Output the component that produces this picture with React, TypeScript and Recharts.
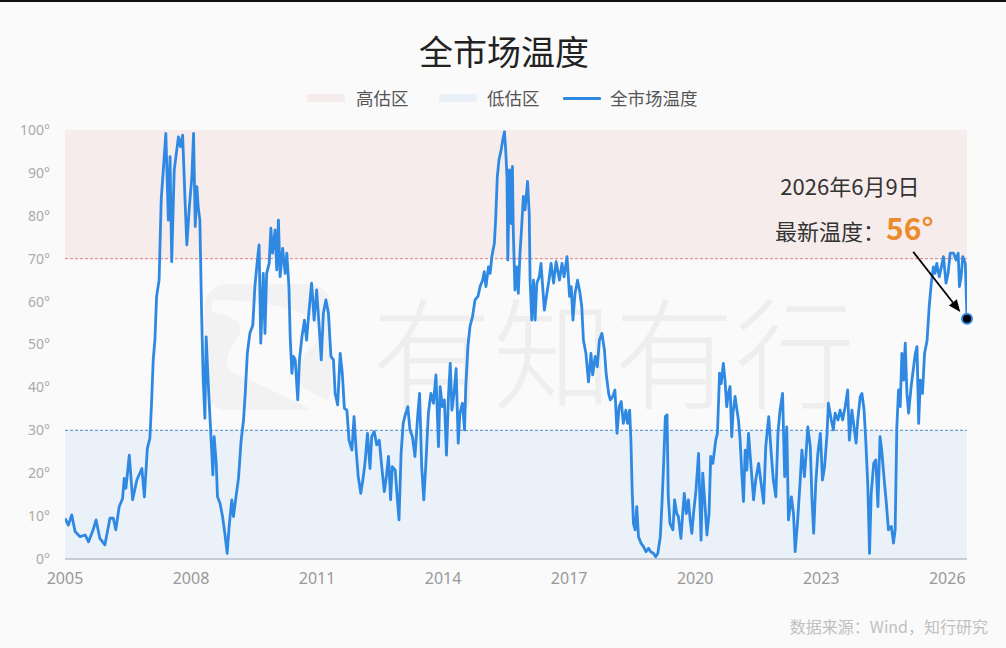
import React from 'react';
import {
  ComposedChart,
  Line,
  XAxis,
  YAxis,
  ReferenceArea,
  ReferenceLine,
  ReferenceDot,
} from 'recharts';

// ---------- DATA ----------
const years2005to2010 = [
  2005.00, 2005.08, 2005.16, 2005.24, 2005.36, 2005.48, 2005.56, 2005.67, 2005.74, 2005.83,
  2005.95, 2006.07, 2006.15, 2006.21, 2006.29, 2006.37, 2006.41, 2006.45, 2006.53, 2006.61,
  2006.71, 2006.83, 2006.89, 2006.96, 2007.02, 2007.06, 2007.10, 2007.14, 2007.18, 2007.24,
  2007.29, 2007.34, 2007.40, 2007.46, 2007.50, 2007.54, 2007.60, 2007.66, 2007.70, 2007.75,
  2007.80, 2007.86, 2007.90, 2007.96, 2008.02, 2008.06, 2008.10, 2008.14, 2008.17, 2008.21,
  2008.25, 2008.29, 2008.33, 2008.36, 2008.41, 2008.47, 2008.52, 2008.55, 2008.60, 2008.63,
  2008.69, 2008.75, 2008.81, 2008.86, 2008.91, 2008.97, 2009.01, 2009.07, 2009.13, 2009.19,
  2009.25, 2009.29, 2009.34, 2009.40, 2009.47, 2009.52, 2009.58, 2009.62, 2009.66, 2009.72,
  2009.76, 2009.80, 2009.86, 2009.90, 2009.94, 2010.00, 2010.04, 2010.08, 2010.12, 2010.18,
  2010.24,
];
const temps2005to2010 = [
  9.5, 7.9, 10.3, 6.4, 5.2, 5.6, 4.0, 6.8, 9.1, 4.8,
  3.3, 9.5, 9.5, 6.8, 12.2, 14.1, 18.8, 16.5, 24.2, 13.8,
  18.4, 21.1, 14.5, 25.8, 28.1, 36.3, 46.4, 51.0, 61.2, 65.0,
  83.7, 90.7, 99.2, 79.0, 93.8, 69.3, 90.7, 95.3, 98.4, 96.1,
  98.8, 82.9, 73.2, 82.1, 89.1, 99.2, 77.5, 86.8, 82.1, 79.0,
  58.0, 41.7, 32.8, 51.8, 40.9, 29.3, 19.6, 28.5, 22.3, 14.5,
  13.0, 9.9, 5.6, 1.3, 7.9, 13.8, 9.9, 14.5, 18.8, 27.4,
  32.4, 38.6, 47.9, 52.6, 54.5, 63.5, 69.7, 73.2, 50.3, 66.6,
  52.6, 66.6, 68.9, 77.1, 71.3, 76.7, 67.4, 79.0, 65.8, 72.4,
  66.6,
];

const years2010to2015 = [
  2010.28, 2010.33, 2010.36, 2010.40, 2010.44, 2010.48, 2010.54, 2010.58, 2010.64, 2010.70,
  2010.75, 2010.81, 2010.87, 2010.93, 2010.99, 2011.05, 2011.10, 2011.15, 2011.21, 2011.27,
  2011.33, 2011.39, 2011.43, 2011.49, 2011.55, 2011.60, 2011.65, 2011.71, 2011.76, 2011.83,
  2011.88, 2011.93, 2011.98, 2012.04, 2012.09, 2012.14, 2012.20, 2012.26, 2012.30, 2012.36,
  2012.42, 2012.48, 2012.54, 2012.60, 2012.64, 2012.70, 2012.75, 2012.79, 2012.86, 2012.90,
  2012.95, 2013.00, 2013.05, 2013.11, 2013.16, 2013.21, 2013.27, 2013.33, 2013.40, 2013.44,
  2013.49, 2013.54, 2013.59, 2013.65, 2013.71, 2013.77, 2013.83, 2013.89, 2013.93, 2013.98,
  2014.03, 2014.08, 2014.13, 2014.17, 2014.21, 2014.26, 2014.31, 2014.36, 2014.40, 2014.46,
  2014.51, 2014.54, 2014.59, 2014.64, 2014.70, 2014.76, 2014.83, 2014.88, 2014.94, 2014.98,
  2015.02, 2015.08, 2015.12, 2015.16, 2015.22, 2015.25, 2015.29, 2015.33, 2015.38, 2015.42,
  2015.46, 2015.49, 2015.52, 2015.54, 2015.58, 2015.62, 2015.65,
];
const temps2010to2015 = [
  71.3, 63.5, 51.8, 43.3, 47.2, 46.4, 37.1, 46.4, 51.8, 55.7,
  51.0, 58.0, 64.3, 55.7, 62.7, 54.2, 46.4, 57.3, 60.4, 57.3,
  47.2, 46.4, 38.6, 35.9, 47.9, 43.3, 35.1, 34.7, 27.7, 25.4,
  33.2, 25.4, 19.2, 15.3, 18.4, 22.3, 29.3, 21.1, 28.5, 29.7,
  26.6, 27.7, 21.5, 15.7, 18.4, 23.9, 13.8, 21.5, 20.7, 15.3,
  9.1, 24.6, 31.6, 34.0, 35.5, 30.1, 28.5, 23.9, 34.0, 38.6,
  21.5, 13.8, 22.3, 34.0, 38.6, 36.3, 42.9, 26.2, 40.2, 35.5,
  37.1, 24.2, 38.6, 45.6, 34.7, 38.6, 44.4, 27.0, 34.0, 36.3,
  30.1, 40.2, 49.5, 54.2, 56.5, 60.4, 61.2, 63.5, 65.0, 67.0,
  63.5, 68.1, 66.6, 70.5, 73.6, 79.0, 89.1, 93.0, 95.3, 97.7,
  99.6, 95.3, 89.1, 69.7, 90.7, 78.2, 91.5,
];

const years2015to2020 = [
  2015.67, 2015.71, 2015.75, 2015.79, 2015.83, 2015.87, 2015.91, 2015.95, 2016.01, 2016.05,
  2016.07, 2016.11, 2016.15, 2016.19, 2016.23, 2016.29, 2016.33, 2016.37, 2016.41, 2016.47,
  2016.52, 2016.57, 2016.63, 2016.69, 2016.77, 2016.83, 2016.88, 2016.95, 2017.01, 2017.05,
  2017.09, 2017.14, 2017.20, 2017.26, 2017.30, 2017.34, 2017.40, 2017.46, 2017.52, 2017.56,
  2017.62, 2017.67, 2017.72, 2017.78, 2017.84, 2017.88, 2017.94, 2017.98, 2018.04, 2018.09,
  2018.14, 2018.19, 2018.24, 2018.29, 2018.35, 2018.39, 2018.44, 2018.47, 2018.50, 2018.53,
  2018.57, 2018.61, 2018.65, 2018.71, 2018.77, 2018.83, 2018.89, 2018.94, 2019.01, 2019.06,
  2019.11, 2019.17, 2019.21, 2019.25, 2019.29, 2019.33, 2019.36, 2019.40, 2019.47, 2019.51,
  2019.56, 2019.60, 2019.66, 2019.71, 2019.74, 2019.79, 2019.84, 2019.88, 2019.92, 2019.96,
  2020.02, 2020.08, 2020.14, 2020.18, 2020.22, 2020.28, 2020.33, 2020.37, 2020.42, 2020.45,
  2020.49, 2020.53, 2020.58, 2020.62, 2020.67, 2020.71, 2020.75, 2020.79, 2020.83, 2020.87,
  2020.90, 2020.95, 2020.99,
];
const temps2015to2020 = [
  76.7, 62.7, 68.1, 61.9, 71.3, 77.5, 84.5, 81.4, 88.0, 80.6,
  65.0, 55.7, 65.0, 55.7, 64.3, 65.8, 68.9, 63.5, 58.0, 61.9,
  65.0, 68.9, 64.3, 69.3, 65.0, 68.9, 65.8, 70.5, 61.2, 63.5,
  55.7, 61.9, 65.0, 61.9, 58.8, 51.0, 47.9, 41.3, 47.9, 42.9,
  47.2, 44.8, 51.0, 52.6, 48.7, 43.3, 38.6, 37.1, 37.9, 39.4,
  29.3, 35.5, 36.7, 31.6, 34.7, 31.6, 34.7, 27.7, 16.1, 8.3,
  6.8, 12.2, 5.2, 3.7, 2.9, 1.7, 2.5, 1.7, 1.3, 0.5,
  1.3, 5.2, 13.0, 22.3, 33.2, 33.6, 14.5, 8.3, 6.8, 13.8,
  10.6, 9.9, 4.8, 11.4, 15.3, 10.6, 13.8, 9.1, 6.0, 10.6,
  16.1, 24.6, 4.4, 20.0, 14.5, 5.6, 10.6, 23.9, 22.3, 24.6,
  27.7, 29.3, 43.3, 40.9, 45.6, 41.7, 35.5, 38.6, 40.2, 28.5,
  34.0, 37.9, 35.0,
];

const years2021to2026 = [
  2021.03, 2021.07, 2021.11, 2021.15, 2021.19, 2021.23, 2021.27, 2021.33, 2021.39, 2021.44,
  2021.51, 2021.57, 2021.63, 2021.68, 2021.75, 2021.81, 2021.86, 2021.92, 2021.97, 2022.02,
  2022.08, 2022.13, 2022.18, 2022.22, 2022.29, 2022.34, 2022.38, 2022.44, 2022.50, 2022.54,
  2022.60, 2022.64, 2022.68, 2022.74, 2022.78, 2022.82, 2022.87, 2022.92, 2022.98, 2023.03,
  2023.08, 2023.14, 2023.17, 2023.24, 2023.29, 2023.33, 2023.40, 2023.45, 2023.51, 2023.57,
  2023.63, 2023.67, 2023.73, 2023.79, 2023.83, 2023.87, 2023.93, 2023.97, 2024.02, 2024.06,
  2024.11, 2024.15, 2024.19, 2024.25, 2024.30, 2024.35, 2024.40, 2024.44, 2024.50, 2024.55,
  2024.60, 2024.67, 2024.72, 2024.76, 2024.80, 2024.84, 2024.88, 2024.92, 2024.96, 2025.00,
  2025.04, 2025.08, 2025.14, 2025.18, 2025.24, 2025.28, 2025.32, 2025.36, 2025.41, 2025.46,
  2025.52, 2025.57, 2025.62, 2025.67, 2025.71, 2025.75, 2025.81, 2025.86, 2025.91, 2025.97,
  2026.02, 2026.07, 2026.11, 2026.15, 2026.21, 2026.26, 2026.29, 2026.33, 2026.37, 2026.43,
  2026.47,
];
const temps2021to2026 = [
  32.4, 27.7, 20.0, 13.4, 25.4, 20.7, 29.3, 21.5, 13.8, 18.4,
  22.3, 17.6, 13.0, 26.2, 33.2, 24.6, 18.4, 14.5, 29.3, 34.7,
  38.6, 19.2, 30.8, 9.1, 14.5, 10.6, 1.7, 9.1, 18.4, 25.4,
  19.2, 24.6, 30.8, 26.2, 13.8, 6.0, 17.6, 24.6, 29.3, 18.4,
  21.5, 29.3, 36.3, 32.4, 30.1, 34.0, 32.4, 34.7, 32.4, 35.5,
  39.4, 27.7, 34.7, 30.1, 27.0, 32.4, 37.9, 38.6, 34.7, 27.7,
  16.9, 1.3, 15.3, 22.3, 23.1, 12.2, 28.5, 25.4, 18.4, 13.0,
  6.8, 7.6, 3.7, 6.8, 30.8, 39.4, 35.5, 47.9, 41.7, 50.3,
  38.6, 34.0, 40.2, 43.3, 47.9, 49.5, 31.6, 41.7, 38.6, 47.9,
  51.0, 58.8, 64.3, 68.1, 66.6, 68.9, 65.8, 68.1, 70.5, 64.3,
  66.6, 71.3, 71.3, 71.3, 69.7, 71.3, 63.5, 65.8, 70.5, 68.9,
  56.0,
];

const yearTicks = [2005, 2008, 2011, 2014, 2017, 2020, 2023, 2026];
const degreeTicks = [0, 10, 20, 30, 40, 50, 60, 70, 80, 90, 100];
const highZone = [70, 100];
const lowZone = [0, 30];
const latestPoint = { year: 2026.47, temp: 56, date: '2026年6月9日' };
const arrowStart = { year: 2025.19, temp: 71.6 };
const arrowEnd = { year: 2026.31, temp: 57.6 };

const titleText = '全市场温度';
const legendHigh = '高估区';
const legendLow = '低估区';
const legendLine = '全市场温度';
const sourceText = '数据来源：Wind，知行研究';
const watermarkText = '有知有行';

const allYears = [...years2005to2010, ...years2010to2015, ...years2015to2020, ...years2021to2026];
const allTemps = [...temps2005to2010, ...temps2010to2015, ...temps2015to2020, ...temps2021to2026];
const chartData = allYears.map((year, i) => ({ year, temp: allTemps[i] }));

// ---------- STYLES ----------
const BG = '#fafafa';
const LINE_BLUE = '#2f89e3';
const HIGH_FILL = '#f7ecec';
const LOW_FILL = '#ebf1f9';
const CJK = '"Noto Sans CJK SC", "Noto Sans", sans-serif';

const ArrowShape = (props: any) => {
  const { x1, y1, x2, y2 } = props;
  if ([x1, y1, x2, y2].some((v) => typeof v !== 'number' || isNaN(v))) return <g />;
  const ang = Math.atan2(y2 - y1, x2 - x1);
  const len = 12;
  const half = 5;
  const bx = x2 - len * Math.cos(ang);
  const by = y2 - len * Math.sin(ang);
  const px = -Math.sin(ang) * half;
  const py = Math.cos(ang) * half;
  return (
    <g>
      <line x1={x1} y1={y1} x2={bx} y2={by} stroke="#000" strokeWidth={1.8} />
      <polygon points={`${x2},${y2} ${bx + px},${by + py} ${bx - px},${by - py}`} fill="#000" />
    </g>
  );
};

export default function App() {
  return (
    <div
      style={{
        position: 'absolute',
        left: 0,
        top: 0,
        width: 1006,
        height: 648,
        background: BG,
        overflow: 'hidden',
        fontFamily: CJK,
      }}
    >
      <div style={{ position: 'absolute', left: 0, top: 0, width: 1006, height: 2, background: '#111' }} />

      {/* watermark */}
      <svg style={{ position: 'absolute', left: 0, top: 0 }} width={1006} height={648}>
        <rect x={205} y={284} width={126} height={126} rx={22} fill="#f2f2f2" />
        <path
          d="M212 300 C 250 300, 300 305, 318 325 C 330 340, 300 350, 296 370 C 293 385, 315 395, 331 402 L 331 410 L 312 410 C 290 398, 250 380, 232 372 C 222 366, 228 350, 236 340 C 246 326, 240 318, 212 312 Z"
          fill="#fafafa"
        />
      </svg>
      <div
        style={{
          position: 'absolute',
          left: 372,
          top: 288,
          fontSize: 120,
          lineHeight: '120px',
          letterSpacing: 1,
          color: '#eeeeee',
          fontWeight: 300,
          whiteSpace: 'nowrap',
        }}
      >
        {watermarkText}
      </div>

      {/* title */}
      <div
        style={{
          position: 'absolute',
          left: 0,
          width: 1008,
          top: 29,
          textAlign: 'center',
          fontSize: 34,
          lineHeight: '44px',
          color: '#222',
        }}
      >
        {titleText}
      </div>

      {/* legend */}
      <div style={{ position: 'absolute', left: 307, top: 94, width: 38, height: 8, background: HIGH_FILL }} />
      <div style={{ position: 'absolute', left: 356, top: 86, fontSize: 17.5, lineHeight: '24px', color: '#555' }}>
        {legendHigh}
      </div>
      <div style={{ position: 'absolute', left: 439, top: 94, width: 38, height: 8, background: LOW_FILL }} />
      <div style={{ position: 'absolute', left: 487, top: 86, fontSize: 17.5, lineHeight: '24px', color: '#555' }}>
        {legendLow}
      </div>
      <div style={{ position: 'absolute', left: 563, top: 96.5, width: 38, height: 3, background: LINE_BLUE, borderRadius: 1 }} />
      <div style={{ position: 'absolute', left: 610, top: 86, fontSize: 17.5, lineHeight: '24px', color: '#555' }}>
        {legendLine}
      </div>

      {/* chart */}
      <div style={{ position: 'absolute', left: 0, top: 0 }}>
        <ComposedChart
          width={1006}
          height={648}
          data={chartData}
          margin={{ top: 130, right: 39, bottom: 0, left: 0 }}
        >
          <ReferenceArea y1={highZone[0]} y2={highZone[1]} fill={HIGH_FILL} fillOpacity={1} stroke="none" ifOverflow="extendDomain" />
          <ReferenceArea y1={lowZone[0]} y2={lowZone[1]} fill={LOW_FILL} fillOpacity={1} stroke="none" ifOverflow="extendDomain" />
          <ReferenceLine y={highZone[0]} stroke="#e07a7a" strokeDasharray="3 2" strokeWidth={1} />
          <ReferenceLine y={lowZone[1]} stroke="#4f86cf" strokeDasharray="3 2" strokeWidth={1} />
          <XAxis
            dataKey="year"
            type="number"
            domain={[2005, latestPoint.year]}
            ticks={yearTicks}
            allowDataOverflow
            height={89}
            axisLine={{ stroke: '#b9bec6', strokeWidth: 1.5 }}
            tickLine={false}
            tickSize={0}
            tickMargin={14}
            tick={{ fontSize: 16, fill: '#999', fontFamily: '"Noto Sans", sans-serif' }}
            tickFormatter={(v: number) => String(Math.round(v))}
          />
          <YAxis
            type="number"
            domain={[0, 100]}
            ticks={degreeTicks}
            width={65}
            axisLine={false}
            tickLine={false}
            tickSize={0}
            tickMargin={15}
            tick={{ fontSize: 14, fill: '#aaa', fontFamily: '"Noto Sans", sans-serif' }}
            tickFormatter={(v: number) => `${v}°`}
          />
          <Line
            type="linear"
            dataKey="temp"
            stroke={LINE_BLUE}
            strokeWidth={2.8}
            dot={false}
            activeDot={false}
            isAnimationActive={false}
            strokeLinejoin="round"
          />
          <ReferenceLine
            segment={[
              { x: arrowStart.year, y: arrowStart.temp },
              { x: arrowEnd.year, y: arrowEnd.temp },
            ]}
            shape={ArrowShape}
          />
          <ReferenceDot
            x={latestPoint.year}
            y={latestPoint.temp}
            r={5}
            fill="#000"
            stroke={LINE_BLUE}
            strokeWidth={2}
          />
        </ComposedChart>
      </div>

      {/* annotation */}
      <div
        style={{
          position: 'absolute',
          left: 750,
          width: 200,
          top: 170,
          textAlign: 'center',
          fontSize: 22,
          lineHeight: '30px',
          color: '#333',
        }}
      >
        {latestPoint.date}
      </div>
      <div
        style={{
          position: 'absolute',
          left: 775,
          top: 210,
          fontSize: 22,
          lineHeight: '34px',
          color: '#333',
          whiteSpace: 'nowrap',
        }}
      >
        最新温度：
        <span style={{ color: '#ec8b2c', fontWeight: 700, fontSize: 30, marginLeft: 1 }}>
          {latestPoint.temp}°
        </span>
      </div>

      {/* source */}
      <div
        style={{
          position: 'absolute',
          right: 18,
          top: 615,
          fontSize: 16,
          lineHeight: '22px',
          color: '#c0c0c0',
          whiteSpace: 'nowrap',
        }}
      >
        {sourceText}
      </div>
    </div>
  );
}
